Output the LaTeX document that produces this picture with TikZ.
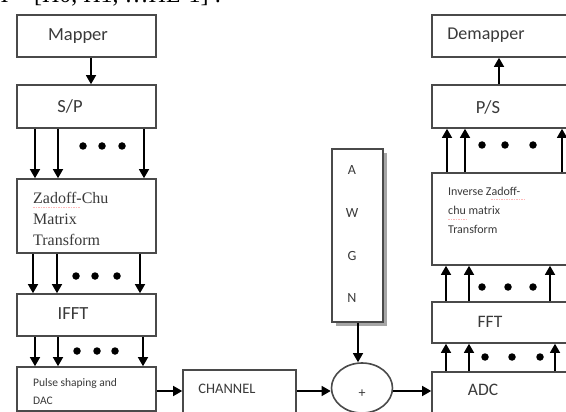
\documentclass[tikz,border=0pt]{standalone}
\usepackage{fontspec}
\setmainfont{Liberation Serif}
\newfontfamily\calib{Carlito}
\usetikzlibrary{arrows.meta,shapes.geometric}
\definecolor{boxline}{HTML}{4A4A4A}
\definecolor{txt}{HTML}{3A3A3A}
\tikzset{
  box/.style={draw=boxline,line width=1.6pt,rectangle,inner sep=0pt,fill=white},
  arr/.style={draw=black,line width=1.3pt,-{Triangle[width=10pt,length=9pt]}},
  dotm/.style={fill=black,circle,inner sep=0pt,minimum size=7.5pt},
  lbl/.style={text=txt,font=\calib\fontsize{18.5}{22}\selectfont,inner sep=0pt},
  slbl/.style={text=txt,font=\calib\fontsize{12}{19}\selectfont,inner sep=0pt,align=left},
  spell/.style={draw=red!60,line width=0.5pt,opacity=0.45,dash pattern=on 1.5pt off 1pt}
}
\begin{document}
\begin{tikzpicture}[x=1pt,y=-1pt]
\useasboundingbox (0,0) rectangle (566,412);
\clip (0,0) rectangle (566,412);
\fill[white] (0,0) rectangle (566,412);
% top cropped text
\node[anchor=base west,inner sep=0pt,font=\fontsize{24}{28}\selectfont] (htext) at (-9,2.5) {H = [H0, H1, \dots HL-1] :};
% left column
\node[box,minimum width=139,minimum height=42] (mapper) at (86.5,36) {};
\node[box,minimum width=139,minimum height=43] (sp) at (86.5,106.5) {};
\node[box,minimum width=139,minimum height=74] (zc) at (86.5,216) {};
\node[box,minimum width=139,minimum height=42] (ifft) at (86.5,315) {};
\node[box,minimum width=139,minimum height=44] (pulse) at (86.5,389) {};
\node[box,minimum width=113,minimum height=46] (channel) at (239.5,393) {};
% AWGN with shadow
\fill[gray!70] (336,153) rectangle (387,326);
\node[box,minimum width=51,minimum height=173] (awgn) at (357.5,235.5) {};
\node[ellipse,draw=boxline,line width=1.6pt,minimum width=61,minimum height=50,inner sep=0pt] (plus) at (362,388) {};
% right column
\node[box,minimum width=140,minimum height=42] (demapper) at (502,36) {};
\node[box,minimum width=140,minimum height=43] (ps) at (502,106.5) {};
\node[box,minimum width=140,minimum height=92] (izc) at (502,219) {};
\node[box,minimum width=140,minimum height=41] (fft) at (502,322.5) {};
\node[box,minimum width=140,minimum height=44] (adc) at (502,394) {};
% labels
\node[lbl] (tmapper) at (78,36) {Mapper};
\node[lbl] (tsp) at (70,106) {S/P};
\node[anchor=west,inner sep=0pt,text=txt,align=left,font=\fontsize{16}{21}\selectfont] (tzc) at (33,219) {Zadoff-Chu\\Matrix\\Transform};
\node[lbl] (tifft) at (73,314) {IFFT};
\node[slbl,anchor=west,font=\calib\fontsize{11.5}{18}\selectfont] (tpulse) at (33,392) {Pulse shaping and\\DAC};
\node[lbl,font=\calib\fontsize{14.5}{18}\selectfont] (tchannel) at (227,389) {CHANNEL};
\node[lbl,font=\calib\fontsize{14}{18}\selectfont] (ta) at (352,170) {A};
\node[lbl,font=\calib\fontsize{14}{18}\selectfont] (tw) at (352,213) {W};
\node[lbl,font=\calib\fontsize{14}{18}\selectfont] (tg) at (352,256) {G};
\node[lbl,font=\calib\fontsize{14}{18}\selectfont] (tn) at (352,298) {N};
\node[lbl,font=\calib\fontsize{14}{16}\selectfont] (tplus) at (362,394) {+};
\node[lbl,font=\calib\fontsize{17.5}{21}\selectfont] (tadc) at (483,390) {ADC};
\node[lbl,font=\calib\fontsize{17.5}{21}\selectfont] (tfft) at (490,322) {FFT};
\node[slbl,anchor=west] (tizc) at (448,210) {Inverse Zadoff-\\chu matrix\\Transform};
\node[lbl] (tps) at (488,107) {P/S};
\node[lbl,font=\calib\fontsize{18}{21}\selectfont] (tdemapper) at (486,35) {Demapper};
% spell-check underlines
\draw[spell] (33,207) -- (80,207);
\draw[spell] (491,199) -- (526,199);
\draw[spell] (448,219) -- (467,219);
% arrows left
\draw[arr] (mapper.south -| 91,0) -- (sp.north -| 91,0);
\foreach \x in {35,58,144} \draw[arr] (sp.south -| \x,0) -- (zc.north -| \x,0);
\foreach \x/\n in {83/a,102/b,122/c} \node[dotm] (d1\n) at (\x,146) {};
\foreach \x in {33,57,140} \draw[arr] (zc.south -| \x,0) -- (ifft.north -| \x,0);
\foreach \x/\n in {76/a,95/b,117/c} \node[dotm] (d2\n) at (\x,276) {};
\foreach \x in {35,58,143} \draw[arr] (ifft.south -| \x,0) -- (pulse.north -| \x,0);
\foreach \x/\n in {77/a,97/b,115/c} \node[dotm] (d3\n) at (\x,351) {};
% bottom chain
\draw[arr] (pulse.east |- 0,391) -- (channel.west |- 0,391);
\draw[arr] (channel.east |- 0,391) -- (plus.west |- 0,391);
\draw[arr] (awgn.south -| 358,0) -- (plus.north -| 358,0);
\draw[arr] (plus.east |- 0,391) -- (adc.west |- 0,391);
% arrows right
\foreach \x in {446,469,555} \draw[arr] (adc.north -| \x,0) -- (fft.south -| \x,0);
\foreach \x/\n in {485/a,512/b,540/c} \node[dotm] (d4\n) at (\x,357) {};
\foreach \x in {446,469,550} \draw[arr] (fft.north -| \x,0) -- (izc.south -| \x,0);
\foreach \x/\n in {482/a,508/b,533/c} \node[dotm] (d5\n) at (\x,287) {};
\foreach \x in {447,465,562} \draw[arr] (izc.north -| \x,0) -- (ps.south -| \x,0);
\foreach \x/\n in {482/a,505/b,533/c} \node[dotm] (d6\n) at (\x,145) {};
\draw[arr] (ps.north -| 499,0) -- (demapper.south -| 499,0);
\end{tikzpicture}
\end{document}
